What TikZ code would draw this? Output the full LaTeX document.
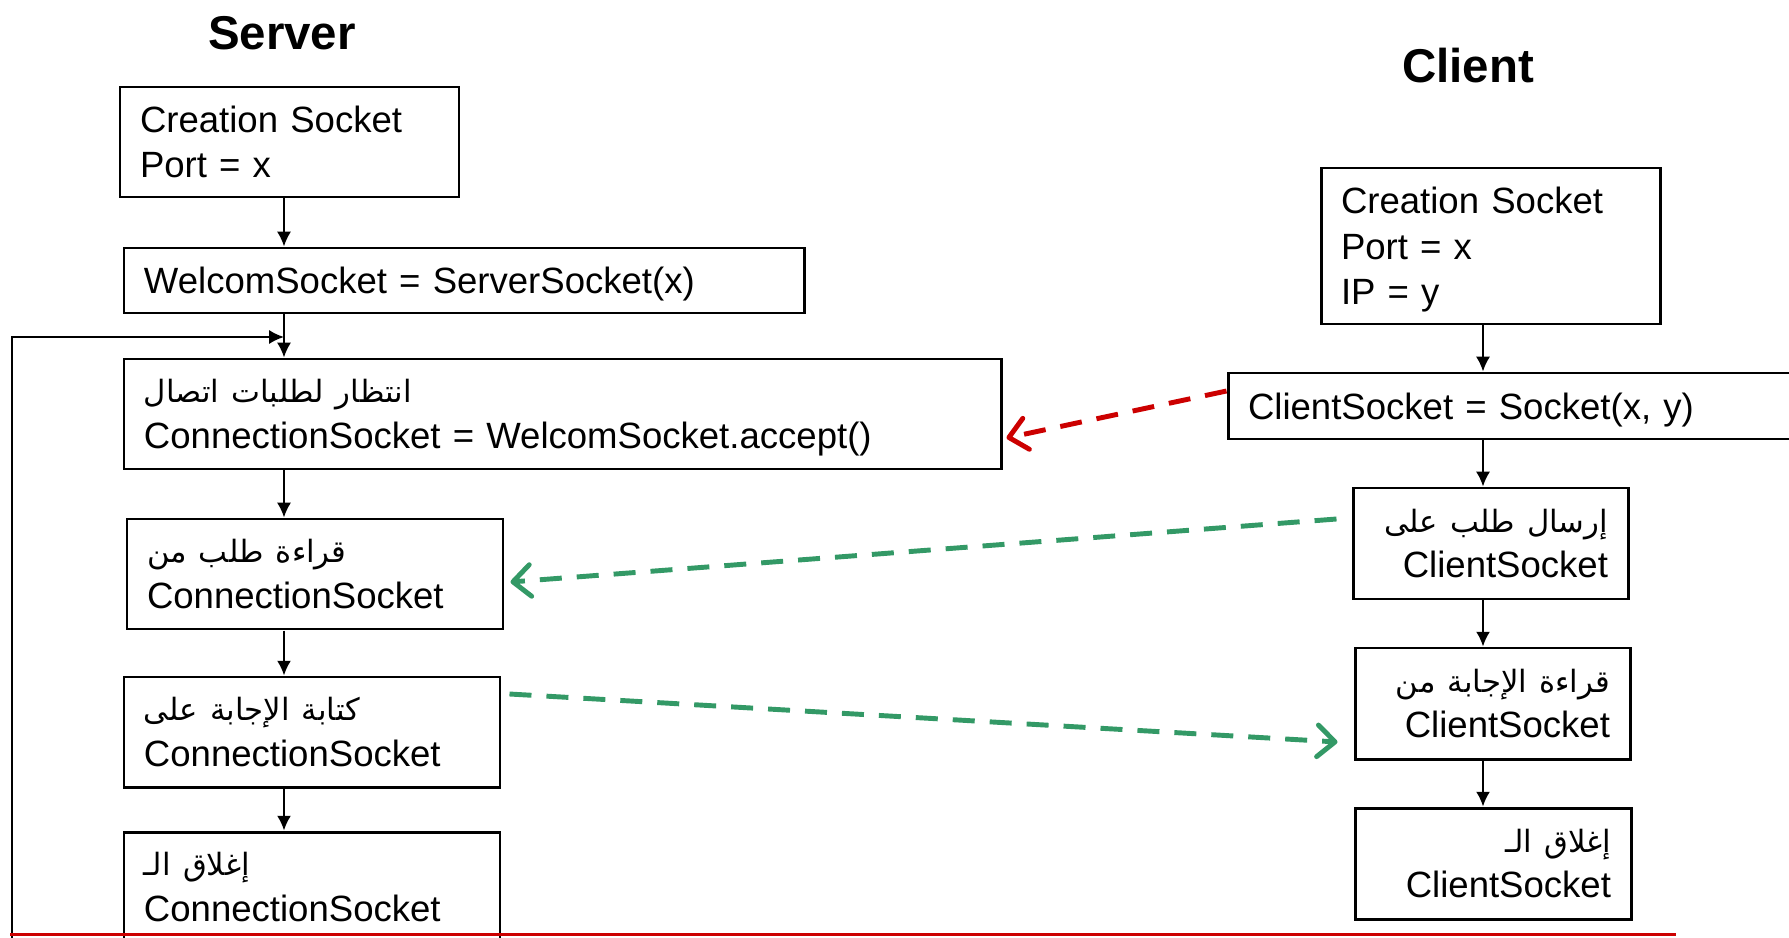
\documentclass[tikz,border=0pt]{standalone}
\usepackage{fontspec}
\setmainfont{Liberation Sans}
\newfontfamily\arabicfont[Script=Arabic,Scale=0.84]{DejaVu Sans}
\TeXXeTstate=1
\usetikzlibrary{arrows.meta}
\definecolor{msgred}{RGB}{204,0,0}
\definecolor{msggreen}{RGB}{51,153,102}
\newcommand{\artxt}[1]{\mbox{\arabicfont\beginR #1\endR}}

\begin{document}
\begin{tikzpicture}[
    box/.style={draw,line width=0.85pt,inner xsep=0.2cm,inner ysep=0pt,
      font=\fontsize{10.4}{13}\selectfont},
    lbox/.style={box,align=left},
    rbox/.style={box,align=right},
    title/.style={anchor=base,font=\fontsize{13.5}{16}\selectfont\bfseries},
    flow/.style={line width=0.6pt,-{Latex[length=4.2pt,width=4pt]}},
    msg/.style={line width=1.4pt,dash pattern=on 0.22cm off 0.15cm,
      -{Straight Barb[length=5pt,width=9pt,round]}},
  ]
    \useasboundingbox (0,0) rectangle (17.89,-9.38);
    \clip (0,0) rectangle (17.89,-9.38);

    \node[title] (srv) at (2.82,-0.49) {Server};
    \node[title] (cli) at (14.68,-0.82) {Client};

    \node[lbox,text width=2.99cm,minimum height=1.10cm] (s1) at (2.895,-1.42)
      {Creation Socket\\Port = x};
    \node[lbox,text width=6.40cm,minimum height=0.65cm,text depth=0pt] (s2) at (4.64,-2.805)
      {WelcomSocket = ServerSocket(x)};
    \node[lbox,text width=8.37cm,minimum height=1.10cm,text depth=13pt] (s3) at (5.625,-4.14)
      {\artxt{انتظار لطلبات اتصال}\\ConnectionSocket = WelcomSocket.accept()};
    \node[lbox,text width=3.36cm,minimum height=1.10cm] (s4) at (3.15,-5.74)
      {\artxt{قراءة طلب من}\\ConnectionSocket};
    \node[lbox,text width=3.36cm,minimum height=1.10cm] (s5) at (3.12,-7.32)
      {\artxt{كتابة الإجابة على}\\ConnectionSocket};
    \node[lbox,text width=3.36cm,minimum height=1.10cm] (s6) at (3.12,-8.87)
      {\artxt{إغلاق الـ}\\ConnectionSocket};

    \node[lbox,text width=2.99cm,minimum height=1.56cm,text depth=26pt] (c1) at (14.905,-2.46)
      {Creation Socket\\Port = x\\IP = y};
    \node[lbox,text width=5.32cm,minimum height=0.66cm,text depth=0pt] (c2) at (15.14,-4.06)
      {ClientSocket = Socket(x, y)};
    \node[rbox,text width=2.35cm,minimum height=1.11cm] (c3) at (14.905,-5.435)
      {\artxt{إرسال طلب على}\\ClientSocket};
    \node[rbox,text width=2.35cm,minimum height=1.11cm] (c4) at (14.925,-7.035)
      {\artxt{قراءة الإجابة من}\\ClientSocket};
    \node[rbox,text width=2.36cm,minimum height=1.11cm] (c5) at (14.93,-8.635)
      {\artxt{إغلاق الـ}\\ClientSocket};

    \coordinate (scol) at (2.84,0);
    \coordinate (ccol) at (14.83,0);
    \foreach \a/\b in {s1/s2,s2/s3,s3/s4,s4/s5,s5/s6}
      \draw[flow] (scol |- \a.south) -- (scol |- \b.north);
    \foreach \a/\b in {c1/c2,c2/c3,c3/c4,c4/c5}
      \draw[flow] (ccol |- \a.south) -- (ccol |- \b.north);

    \coordinate (loopbot) at (0.12,-9.6);
    \coordinate (loopin) at (2.84,-3.37);
    \draw[flow] (loopbot) |- (loopin);

    \draw[msg,msgred] ([yshift=0.15cm]c2.west) -- ([xshift=0.04cm,yshift=-0.24cm]s3.east);
    \draw[msg,msggreen] ([xshift=-0.15cm,yshift=0.245cm]c3.west) -- ([xshift=0.06cm,yshift=-0.08cm]s4.east);
    \draw[msg,msggreen] ([xshift=0.08cm,yshift=0.38cm]s5.east) -- ([xshift=-0.16cm,yshift=-0.385cm]c4.west);

    \draw[msgred,line width=0.9pt] (0.10,-9.345) -- (16.76,-9.345);
  \end{tikzpicture}
\end{document}
